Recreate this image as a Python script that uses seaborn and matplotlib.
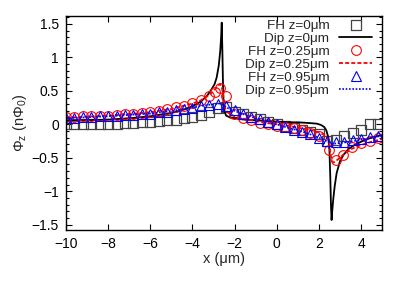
"""
plot.py - flux profile Phi_z along x: FH simulation points vs dipole model.
"""
import numpy as np
import pandas as pd
import matplotlib
matplotlib.use('Agg')
import matplotlib.pyplot as plt
from matplotlib.path import Path
from matplotlib.ticker import MultipleLocator, FuncFormatter
import seaborn as sns

# -- FH z=0um (squares) --
fh0_x = [-10, -9.6, -9.2, -8.8, -8.4, -8.0, -7.6, -7.2, -6.8, -6.4, -6.0, -5.6, -5.2,
         -4.8, -4.4, -4.0, -3.6, -3.2, -2.8, -2.4, -2.0, -1.6, -1.2, -0.8, -0.4, 0.0,
         0.4, 0.8, 1.2, 1.6, 2.0, 2.4, 2.8, 3.2, 3.6, 4.0, 4.4, 4.8]
fh0_y = [0.0, 0.0, 0.0, 0.0, 0.01, 0.01, 0.01, 0.02, 0.02, 0.03, 0.04, 0.05, 0.06,
         0.07, 0.09, 0.11, 0.14, 0.18, 0.24, 0.26, 0.19, 0.15, 0.11, 0.08, 0.04, 0.01,
         -0.02, -0.05, -0.08, -0.11, -0.15, -0.25, -0.24, -0.18, -0.13, -0.09, 0.0, 0.0]

# -- FH z=0.25um (circles) --
fh25_x = [-10, -9.6, -9.2, -8.8, -8.4, -8.0, -7.6, -7.2, -6.8, -6.4, -6.0, -5.6, -5.2,
          -4.8, -4.4, -4.0, -3.6, -3.2, -2.95, -2.7, -2.4, -2.05, -1.6, -1.2, -0.8, -0.4,
          0.0, 0.4, 0.8, 1.2, 1.6, 2.0, 2.5, 2.8, 3.15, 3.55, 4.0, 4.4, 4.8]
fh25_y = [0.11, 0.11, 0.12, 0.12, 0.13, 0.13, 0.14, 0.15, 0.16, 0.17, 0.18, 0.20, 0.23,
          0.26, 0.28, 0.32, 0.36, 0.42, 0.49, 0.55, 0.42, 0.15, 0.09, 0.06, 0.02, 0.0,
          -0.02, -0.04, -0.06, -0.09, -0.13, -0.18, -0.39, -0.53, -0.46, -0.34, -0.28, -0.25, -0.21]

# -- FH z=0.95um (triangles) --
fh95_x = fh0_x
fh95_y = [0.10, 0.10, 0.11, 0.11, 0.12, 0.12, 0.13, 0.14, 0.14, 0.15, 0.16, 0.18, 0.19,
          0.21, 0.23, 0.25, 0.27, 0.29, 0.30, 0.28, 0.21, 0.16, 0.11, 0.08, 0.04, 0.0,
          -0.04, -0.08, -0.11, -0.15, -0.20, -0.25, -0.27, -0.26, -0.24, -0.22, -0.19, -0.17]

# -- Dipole model z=0 --
dip0_x = [-10, -9, -8, -7, -6, -5, -4.5, -4, -3.6, -3.3, -3.1, -2.95, -2.85, -2.75, -2.68,
          -2.64, -2.61, -2.58, -2.55, -2.52, -2.47, -2.4, -2.2, -2.0, -1.5, -1.0, -0.5, 0.0,
          0.5, 1.0, 1.5, 1.9, 2.1, 2.25, 2.35, 2.45, 2.5, 2.54, 2.57, 2.6, 2.63, 2.68, 2.75,
          2.84, 3.0, 3.16, 3.4, 3.63, 4.0, 4.3, 4.6, 5.0]
dip0_y = [0.05, 0.06, 0.07, 0.09, 0.12, 0.17, 0.21, 0.27, 0.34, 0.43, 0.52, 0.60, 0.70, 0.88, 1.10,
          1.30, 1.52, 1.10, 0.60, 0.30, 0.18, 0.13, 0.10, 0.09, 0.07, 0.06, 0.05, 0.04,
          0.03, 0.03, 0.02, 0.01, -0.01, -0.04, -0.09, -0.20, -0.40, -0.80, -1.20, -1.43, -1.30, -1.12, -0.92,
          -0.73, -0.55, -0.46, -0.37, -0.32, -0.26, -0.22, -0.19, -0.16]

# -- Dipole model z=0.25 --
dip25_x = [-10, -8, -6, -5, -4, -3.6, -3.2, -3.0, -2.8, -2.7, -2.62, -2.55, -2.5, -2.4, -2.2,
           -2.0, -1.5, -1.0, -0.5, 0.0, 0.5, 1.0, 1.5, 2.0, 2.2, 2.4, 2.5, 2.55, 2.62, 2.7,
           2.8, 3.0, 3.2, 3.6, 4.0, 4.5, 5.0]
dip25_y = [0.10, 0.13, 0.18, 0.23, 0.31, 0.36, 0.44, 0.50, 0.57, 0.60, 0.58, 0.45, 0.30, 0.20, 0.15,
           0.12, 0.08, 0.05, 0.02, 0.0, -0.02, -0.05, -0.08, -0.12, -0.15, -0.20, -0.30, -0.45, -0.55, -0.57,
           -0.55, -0.50, -0.44, -0.36, -0.31, -0.26, -0.22]

# -- Dipole model z=0.95 --
dip95_x = [-10, -8, -6, -5, -4, -3.5, -3.0, -2.7, -2.5, -2.3, -2.0, -1.5, -1.0, -0.5, 0.0,
           0.5, 1.0, 1.5, 2.0, 2.3, 2.5, 2.7, 3.0, 3.5, 4.0, 4.5, 5.0]
dip95_y = [0.09, 0.12, 0.16, 0.20, 0.25, 0.28, 0.30, 0.31, 0.28, 0.24, 0.20, 0.14, 0.09, 0.05, 0.0,
           -0.05, -0.09, -0.14, -0.20, -0.24, -0.28, -0.29, -0.28, -0.26, -0.23, -0.20, -0.17]

# -- Style --
sns.set_style('ticks')
plt.rcParams['font.family'] = ['Liberation Sans', 'DejaVu Sans']
plt.rcParams['mathtext.fontset'] = 'custom'
plt.rcParams['mathtext.rm'] = 'Liberation Sans'
plt.rcParams['mathtext.it'] = 'Liberation Sans'
TICK_FS = 10
LEG_FS = 9.7
LAB_FS = 10.5

# square with a dot in the middle, like the gnuplot point
box_dot = Path([(-1, -1), (1, -1), (1, 1), (-1, 1), (-1, -1),
                (-0.1, -0.1), (0.1, -0.1), (0.1, 0.1), (-0.1, 0.1), (-0.1, -0.1)],
               [Path.MOVETO, Path.LINETO, Path.LINETO, Path.LINETO, Path.CLOSEPOLY,
                Path.MOVETO, Path.LINETO, Path.LINETO, Path.LINETO, Path.CLOSEPOLY])

fig, ax = plt.subplots(figsize=(4.07, 2.85), dpi=100)
fig.subplots_adjust(left=0.162, right=0.939, bottom=0.193, top=0.944)

ax.plot(fh0_x, fh0_y, ls='none', marker=box_dot, ms=7, mfc='none', mec='#444444',
        mew=0.9, label='FH z=0\u03bcm')
sns.lineplot(x=dip0_x, y=dip0_y, ax=ax, sort=False, color='black', lw=1.3,
             label='Dip z=0\u03bcm')
ax.plot(fh25_x, fh25_y, ls='none', marker='o', ms=7, mfc='none', mec='#ff0000',
        mew=0.8, label='FH z=0.25\u03bcm')
sns.lineplot(x=dip25_x, y=dip25_y, ax=ax, sort=False, color='#ff0000', lw=1.3,
             dashes=(2.2, 1.2), label='Dip z=0.25\u03bcm')
ax.plot(fh95_x, fh95_y, ls='none', marker='^', ms=6.5, mfc='none', mec='#0000ff',
        mew=0.8, label='FH z=0.95\u03bcm')
sns.lineplot(x=dip95_x, y=dip95_y, ax=ax, sort=False, color='#0000ff', lw=1.2,
             dashes=(1, 1), label='Dip z=0.95\u03bcm')

ax.set_xlim(-10, 5)
ax.set_ylim(-1.58, 1.62)
ax.xaxis.set_major_locator(MultipleLocator(2))
ax.yaxis.set_major_locator(MultipleLocator(0.5))
ax.yaxis.set_minor_locator(MultipleLocator(0.1))
fmt = FuncFormatter(lambda v, p: ('%g' % v).replace('-', '\u2212'))
ax.xaxis.set_major_formatter(fmt)
ax.yaxis.set_major_formatter(fmt)
ax.tick_params(which='both', direction='in', top=True, right=True, width=0.8,
               labelsize=TICK_FS, colors='black')
ax.tick_params(which='major', length=4, pad=5)
ax.tick_params(which='minor', length=2)
for sp in ax.spines.values():
    sp.set_linewidth(1.0)
    sp.set_color('black')

ax.set_xlabel('x (\u03bcm)', fontsize=LAB_FS, labelpad=1)
ax.set_ylabel(r'$\Phi_z$ (n$\Phi_0$)', fontsize=LAB_FS, labelpad=2)

leg = ax.legend(loc='upper right', bbox_to_anchor=(0.967, 0.982), frameon=False,
                markerfirst=False, fontsize=LEG_FS, handlelength=2.4, handletextpad=0.75,
                labelspacing=0.04, borderpad=0, borderaxespad=0)

fig.savefig('out.png', dpi=100, facecolor='white')
